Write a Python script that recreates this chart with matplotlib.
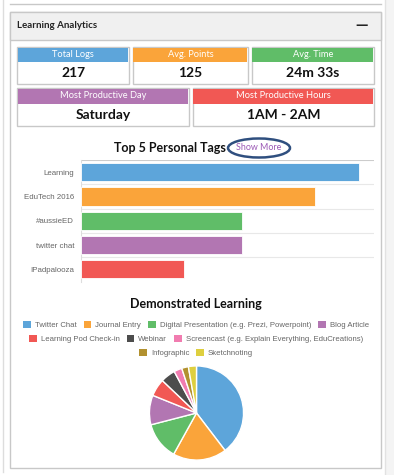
import matplotlib
matplotlib.use("Agg")
import matplotlib.pyplot as plt
from matplotlib.patches import Rectangle, Ellipse

# colours used across the dashboard
palette = ["#5DA5DA", "#FAA43A", "#60BD68", "#B276B2", "#F15854",
           "#4D4D4D", "#F17CB0", "#B2912F", "#DECF3F"]

# stat tiles
stat_titles = ["Total Logs", "Avg. Points", "Avg. Time",
               "Most Productive Day", "Most Productive Hours"]
stat_values = ["217", "125", "24m 33s", "Saturday", "1AM - 2AM"]

# top 5 tags
tag_names = ["Learning", "EduTech 2016", "#aussieED", "twitter chat", "IPadpalooza"]
tag_counts = [19, 16, 11, 11, 7]

# demonstrated learning pie
pie_labels = ["Twitter Chat", "Journal Entry", "Digital Presentation (e.g. Prezi, Powerpoint)",
              "Blog Article", "Learning Pod Check-in", "Webinar",
              "Screencast (e.g. Explain Everything, EduCreations)", "Infographic", "Sketchnoting"]
pie_counts = [86, 40, 28, 22, 13, 11, 6, 5, 6]

W, H = 394, 475
fig = plt.figure(figsize=(W / 100, H / 100), dpi=100)
fig.patch.set_facecolor("white")

def frac(x, y, w, h):
    # pixel box (top-left origin) -> figure fraction rect
    return [x / W, 1 - (y + h) / H, w / W, h / H]

bg = fig.add_axes([0, 0, 1, 1])
bg.set_xlim(0, W)
bg.set_ylim(H, 0)
bg.axis("off")

border = "#c8c8c8"
# page bits around the panel
bg.plot([3, 3], [0, 472], color="#dddddd", lw=1)
bg.plot([10, 381], [4, 4], color=border, lw=1)
bg.add_patch(Rectangle((385, 0), 9, H, color="#f4f4f4", lw=0))
bg.plot([385, 385], [0, 475], color="#e2e2e2", lw=1)

# panel + header
bg.add_patch(Rectangle((10, 12), 371, 456, facecolor="white", edgecolor=border, lw=1))
bg.add_patch(Rectangle((10, 12), 371, 28, facecolor="#f0f0f0", edgecolor=border, lw=1))
bg.text(17, 26, "Learning Analytics", fontsize=7, fontweight="bold",
        family=["Lato", "DejaVu Sans"], color="#222222", va="center")
bg.text(362, 25, "\u2014", fontsize=9, fontweight="bold", color="#222222",
        va="center", ha="center")

# stat tiles (x0, x1, y0, header bottom, y1)
tiles = [(17.5, 129, 47, 61.5, 84), (133, 248, 47, 61.5, 84), (252, 374, 47, 61.5, 84),
         (17.5, 189, 88, 103, 125.5), (193, 374, 88, 103, 125.5)]
for i, (x0, x1, y0, yh, y1) in enumerate(tiles):
    bg.add_patch(Rectangle((x0, y0), x1 - x0, y1 - y0, facecolor="white", edgecolor=border, lw=1))
    bg.add_patch(Rectangle((x0 + 0.5, y0 + 0.5), x1 - x0 - 1, yh - y0, facecolor=palette[i], lw=0))
    bg.text((x0 + x1) / 2, (y0 + yh) / 2 + 0.5, stat_titles[i], fontsize=6.7,
            family=["Lato", "DejaVu Sans"], color="white", ha="center", va="center")
    bg.text((x0 + x1) / 2, (yh + y1) / 2 + 0.5, stat_values[i], fontsize=10, fontweight="bold",
            family=["Lato", "DejaVu Sans"], color="#111111", ha="center", va="center")

# bar chart title + show more
bg.text(170, 147.5, "Top 5 Personal Tags", fontsize=9, fontweight="bold",
        family=["Lato", "DejaVu Sans"], color="#111111", ha="center", va="center")
bg.add_patch(Ellipse((259, 148), 62, 19, fill=False, edgecolor="#2f4f7f", lw=1.8))
bg.text(259, 148, "Show More", fontsize=6.4, family=["Lato", "DejaVu Sans"],
        color="#9b59b6", ha="center", va="center")

ax = fig.add_axes(frac(81, 160, 293, 121.5))
ypos = list(range(len(tag_names)))
ax.barh(ypos, tag_counts, height=0.75, color=palette[:len(tag_names)],
        edgecolor="white", linewidth=0.6, zorder=3)
ax.set_xlim(0, 20)
ax.set_ylim(len(tag_names) - 0.5, -0.5)
ax.set_yticks(ypos)
ax.set_yticklabels(tag_names, fontsize=5.7, color="#666666", family=["Liberation Sans"])
ax.tick_params(axis="y", length=0, pad=5)
ax.set_xticks([])
for b in range(len(tag_names)):
    ax.axhline(b - 0.5, color="#cccccc" if b == 0 else "#e8e8e8", lw=0.8, zorder=1)
for s in ["top", "right", "bottom"]:
    ax.spines[s].set_visible(False)
ax.spines["left"].set_color("#dddddd")
ax.spines["left"].set_linewidth(0.8)

# pie title + legend
bg.text(196, 304, "Demonstrated Learning", fontsize=9, fontweight="bold",
        family=["Lato", "DejaVu Sans"], color="#111111", ha="center", va="center")

pax = fig.add_axes(frac(196.5 - 48, 413 - 48, 96, 96))
pax.set_facecolor("none")
wedges, _ = pax.pie(pie_counts, colors=palette, startangle=90, counterclock=False,
                    wedgeprops=dict(edgecolor="white", linewidth=1))
pax.set_xlim(-1.02, 1.02)
pax.set_ylim(-1.02, 1.02)

rows = [(0, 4, 325), (4, 7, 339), (7, 9, 353)]
for a, b, ypix in rows:
    leg = fig.legend(wedges[a:b], pie_labels[a:b], loc="center", ncol=b - a,
                     bbox_to_anchor=(196 / W, 1 - ypix / H), frameon=False,
                     prop=dict(family="Liberation Sans", size=5.6),
                     labelcolor="#666666", handlelength=1.0, handleheight=1.0,
                     handletextpad=0.5, columnspacing=0.9, borderpad=0)
    for h in leg.legend_handles:
        h.set_edgecolor("none")

fig.savefig("out.png", dpi=100)
